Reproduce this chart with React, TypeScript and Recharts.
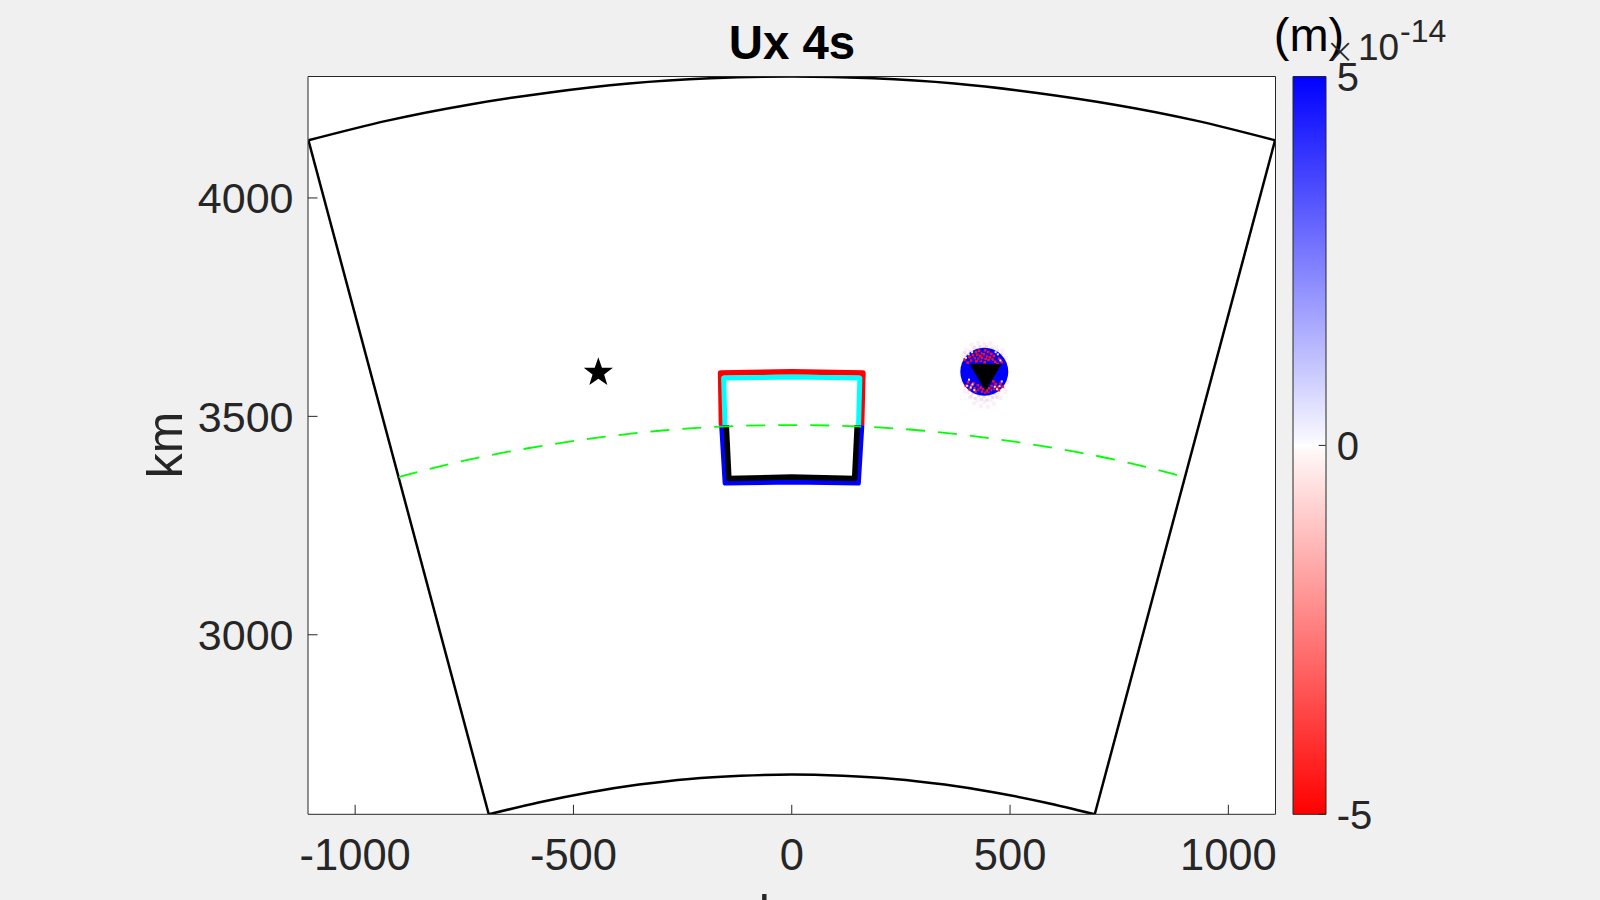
import { ComposedChart, BarChart, Bar, Line, Scatter, XAxis, YAxis } from "recharts";

type Pt = { x: number; y: number };

const xTicks = [-1000, -500, 0, 500, 1000];
const yTicks = [3000, 3500, 4000];
const colorTicks = [-5, 0, 5];

// fan outline, km
const outerArc: Pt[] = [
  { x: -1107, y: 4132 }, { x: -926, y: 4177 }, { x: -743, y: 4213 }, { x: -558, y: 4241 },
  { x: -373, y: 4262 }, { x: -187, y: 4274 }, { x: 0, y: 4278 }, { x: 187, y: 4274 },
  { x: 373, y: 4262 }, { x: 558, y: 4241 }, { x: 743, y: 4213 }, { x: 926, y: 4177 },
  { x: 1107, y: 4132 },
];
const innerArc: Pt[] = [
  { x: -694, y: 2589 }, { x: -580, y: 2616 }, { x: -465, y: 2639 }, { x: -350, y: 2657 },
  { x: -234, y: 2670 }, { x: -117, y: 2677 }, { x: 0, y: 2680 }, { x: 117, y: 2677 },
  { x: 234, y: 2670 }, { x: 350, y: 2657 }, { x: 465, y: 2639 }, { x: 580, y: 2616 },
  { x: 694, y: 2589 },
];
const leftEdge: Pt[] = [{ x: -1107, y: 4132 }, { x: -694, y: 2589 }];
const rightEdge: Pt[] = [{ x: 1107, y: 4132 }, { x: 694, y: 2589 }];

const greenArc: Pt[] = [
  { x: -900, y: 3361 }, { x: -753, y: 3398 }, { x: -604, y: 3427 }, { x: -454, y: 3450 },
  { x: -303, y: 3467 }, { x: -152, y: 3477 }, { x: 0, y: 3480 }, { x: 152, y: 3477 },
  { x: 303, y: 3467 }, { x: 454, y: 3450 }, { x: 604, y: 3427 }, { x: 753, y: 3398 },
  { x: 900, y: 3361 },
];

const redBox: Pt[] = [
  { x: -161, y: 3480 }, { x: -163, y: 3599 }, { x: 0, y: 3602 }, { x: 163, y: 3599 }, { x: 160, y: 3480 },
];
const cyanBox: Pt[] = [
  { x: -153, y: 3480 }, { x: -156, y: 3588 }, { x: 0, y: 3590 }, { x: 156, y: 3588 }, { x: 153, y: 3480 },
];
const blueBox: Pt[] = [
  { x: -160, y: 3480 }, { x: -152, y: 3348 }, { x: 0, y: 3350 }, { x: 152, y: 3348 }, { x: 160, y: 3480 },
];
const blackBox: Pt[] = [
  { x: -150, y: 3480 }, { x: -144, y: 3358 }, { x: 0, y: 3361 }, { x: 144, y: 3358 }, { x: 150, y: 3480 },
];

const source: Pt[] = [{ x: -443, y: 3600 }];
const station: Pt[] = [{ x: 444, y: 3597 }];
const stationDisc: Pt[] = [{ x: 441, y: 3602 }];

// speckle round the station
const faintSpecks: Pt[] = [
  { x: 412, y: 3664 }, { x: 427, y: 3668 }, { x: 441, y: 3665 }, { x: 455, y: 3667 }, { x: 468, y: 3659 },
  { x: 400, y: 3653 }, { x: 482, y: 3651 }, { x: 394, y: 3636 }, { x: 491, y: 3634 }, { x: 390, y: 3576 },
  { x: 494, y: 3578 }, { x: 396, y: 3558 }, { x: 489, y: 3556 }, { x: 408, y: 3544 }, { x: 478, y: 3542 },
  { x: 418, y: 3530 }, { x: 433, y: 3524 }, { x: 449, y: 3522 }, { x: 463, y: 3529 }, { x: 425, y: 3536 },
  { x: 456, y: 3537 }, { x: 441, y: 3533 }, { x: 471, y: 3549 }, { x: 404, y: 3556 },
];
const paleSpecks: Pt[] = [
  { x: 418, y: 3658 }, { x: 431, y: 3660 }, { x: 446, y: 3659 }, { x: 459, y: 3656 }, { x: 472, y: 3650 },
  { x: 408, y: 3648 }, { x: 424, y: 3653 }, { x: 438, y: 3656 }, { x: 452, y: 3653 }, { x: 479, y: 3642 },
  { x: 401, y: 3640 }, { x: 486, y: 3630 }, { x: 415, y: 3552 }, { x: 428, y: 3547 }, { x: 440, y: 3545 },
  { x: 452, y: 3549 }, { x: 464, y: 3552 }, { x: 476, y: 3559 }, { x: 406, y: 3562 }, { x: 420, y: 3541 },
  { x: 434, y: 3539 }, { x: 447, y: 3537 }, { x: 460, y: 3543 }, { x: 486, y: 3566 }, { x: 398, y: 3570 },
  { x: 411, y: 3545 }, { x: 470, y: 3544 }, { x: 396, y: 3646 },
];
const redSpecks: Pt[] = [
  { x: 415, y: 3640 }, { x: 422, y: 3647 }, { x: 429, y: 3650 }, { x: 436, y: 3645 }, { x: 443, y: 3651 },
  { x: 450, y: 3647 }, { x: 457, y: 3643 }, { x: 463, y: 3638 }, { x: 425, y: 3641 }, { x: 432, y: 3638 },
  { x: 440, y: 3642 }, { x: 447, y: 3638 }, { x: 454, y: 3635 }, { x: 419, y: 3633 }, { x: 428, y: 3632 },
  { x: 436, y: 3634 }, { x: 444, y: 3632 }, { x: 451, y: 3629 }, { x: 460, y: 3630 }, { x: 411, y: 3628 },
  { x: 423, y: 3626 }, { x: 433, y: 3627 }, { x: 442, y: 3624 }, { x: 466, y: 3625 }, { x: 407, y: 3636 },
  { x: 396, y: 3630 }, { x: 403, y: 3623 }, { x: 475, y: 3632 }, { x: 481, y: 3624 }, { x: 471, y: 3620 },
  { x: 426, y: 3571 }, { x: 433, y: 3566 }, { x: 439, y: 3562 }, { x: 446, y: 3560 }, { x: 452, y: 3564 },
  { x: 458, y: 3569 }, { x: 428, y: 3561 }, { x: 436, y: 3557 }, { x: 443, y: 3555 }, { x: 450, y: 3557 },
  { x: 456, y: 3560 }, { x: 463, y: 3563 }, { x: 419, y: 3564 }, { x: 411, y: 3570 }, { x: 404, y: 3578 },
  { x: 399, y: 3570 }, { x: 408, y: 3562 }, { x: 416, y: 3576 }, { x: 421, y: 3557 }, { x: 471, y: 3566 },
  { x: 478, y: 3575 }, { x: 483, y: 3568 }, { x: 467, y: 3574 }, { x: 474, y: 3560 }, { x: 462, y: 3580 },
];
const whiteSpecks: Pt[] = [
  { x: 402, y: 3570 }, { x: 410, y: 3566 }, { x: 414, y: 3573 }, { x: 406, y: 3584 }, { x: 418, y: 3560 },
  { x: 470, y: 3562 }, { x: 476, y: 3569 }, { x: 481, y: 3580 }, { x: 465, y: 3568 }, { x: 399, y: 3634 },
  { x: 405, y: 3642 }, { x: 413, y: 3647 }, { x: 472, y: 3642 }, { x: 478, y: 3628 }, { x: 467, y: 3647 },
];
const blueSpecks: Pt[] = [
  { x: 424, y: 3636 }, { x: 438, y: 3648 }, { x: 449, y: 3642 }, { x: 431, y: 3630 }, { x: 456, y: 3626 },
  { x: 415, y: 3631 }, { x: 442, y: 3636 }, { x: 424, y: 3567 }, { x: 431, y: 3559 }, { x: 441, y: 3558 },
  { x: 453, y: 3559 }, { x: 460, y: 3565 }, { x: 412, y: 3561 }, { x: 473, y: 3573 },
];

const colorBar = [{ name: "Ux", range: [-5, 5] }];

const tickFont = "Liberation Sans, Arial, sans-serif";
const inkColor = "#262626";

function Star({ cx, cy }: { cx?: number; cy?: number }) {
  const pts = [
    [0, -15.4], [3.6, -4.8], [14.6, -4.8], [5.8, 1.9], [9, 12.4], [0, 6], [-9, 12.4], [-5.8, 1.9], [-14.6, -4.8], [-3.6, -4.8],
  ];
  return <polygon points={pts.map(([a, b]) => `${(cx ?? 0) + a},${(cy ?? 0) + b}`).join(" ")} fill="#000" />;
}

function Triangle({ cx, cy }: { cx?: number; cy?: number }) {
  const x = cx ?? 0;
  const y = cy ?? 0;
  return <polygon points={`${x - 16},${y - 10} ${x + 16},${y - 10} ${x},${y + 17}`} fill="#000" />;
}

function Disc({ cx, cy }: { cx?: number; cy?: number }) {
  return <circle cx={cx} cy={cy} r={24} fill="#0000ff" />;
}

function speck(color: string, size = 2.4) {
  return ({ cx, cy }: { cx?: number; cy?: number }) => (
    <rect x={(cx ?? 0) - size / 2} y={(cy ?? 0) - size / 2} width={size} height={size} fill={color} />
  );
}

export default function App() {
  const axisStroke = { stroke: inkColor, strokeWidth: 1 };
  const lines: [Pt[], string, number, "linear" | "natural", string?][] = [
    [outerArc, "#000000", 2.5, "natural"],
    [innerArc, "#000000", 2.5, "natural"],
    [leftEdge, "#000000", 2.5, "linear"],
    [rightEdge, "#000000", 2.5, "linear"],
    [redBox, "#ff0000", 5.5, "linear"],
    [blueBox, "#0000ff", 5.5, "linear"],
    [cyanBox, "#00ffff", 5, "linear"],
    [blackBox, "#000000", 5.5, "linear"],
    [greenArc, "#00ff00", 1.8, "natural", "19 13"],
  ];
  const speckLayers: [Pt[], string, number][] = [
    [redSpecks, "#ff1010", 2.6],
    [blueSpecks, "#1010ff", 2.4],
    [whiteSpecks, "#f4e8f6", 2],
  ];
  return (
    <div style={{ position: "absolute", left: 0, top: 0, width: 1600, height: 900, background: "#f0f0f0", overflow: "hidden" }}>
      <div style={{ position: "absolute", left: 308, top: 76.5, width: 967.5, height: 738, background: "#fff" }} />
      <div style={{ position: "absolute", left: 0, top: 0 }}>
        <ComposedChart
          width={1600}
          height={900}
          margin={{ top: 75.5, right: 323.5, bottom: 0, left: 208 }}
          style={{ fontFamily: tickFont }}
        >
          <XAxis
            xAxisId="b"
            type="number"
            dataKey="x"
            domain={[-1108, 1108]}
            ticks={xTicks}
            allowDataOverflow
            height={85.7}
            tickSize={-9.5}
            tickMargin={34}
            axisLine={axisStroke}
            tickLine={axisStroke}
            interval={0}
            tick={{ fontSize: 43.5, fill: inkColor, fontFamily: tickFont }}
          />
          <XAxis
            xAxisId="t"
            orientation="top"
            type="number"
            dataKey="x"
            domain={[-1108, 1108]}
            ticks={xTicks}
            allowDataOverflow
            height={1}
            tickSize={-9.5}
            axisLine={axisStroke}
            tickLine={axisStroke}
            interval={0}
            tick={false}
          />
          <YAxis
            yAxisId="l"
            type="number"
            dataKey="y"
            domain={[2589, 4278]}
            ticks={yTicks}
            allowDataOverflow
            width={100}
            tickSize={-9.5}
            tickMargin={24}
            axisLine={axisStroke}
            tickLine={axisStroke}
            interval={0}
            tick={{ fontSize: 43, fill: inkColor, fontFamily: tickFont }}
          />
          <YAxis
            yAxisId="r"
            orientation="right"
            type="number"
            dataKey="y"
            domain={[2589, 4278]}
            ticks={yTicks}
            allowDataOverflow
            width={1}
            tickSize={-9.5}
            axisLine={axisStroke}
            tickLine={axisStroke}
            interval={0}
            tick={false}
          />
          {lines.map(([data, color, width, curve, dash], i) => (
            <Line
              key={i}
              xAxisId="b"
              yAxisId="l"
              data={data}
              dataKey="y"
              type={curve}
              stroke={color}
              strokeWidth={width}
              strokeDasharray={dash}
              strokeLinejoin="round"
              dot={false}
              activeDot={false}
              isAnimationActive={false}
            />
          ))}
          <Scatter xAxisId="b" yAxisId="l" data={faintSpecks} dataKey="y" shape={speck("#fbf0f7", 4)} isAnimationActive={false} />
          <Scatter xAxisId="b" yAxisId="l" data={paleSpecks} dataKey="y" shape={speck("#f4dcea", 3)} isAnimationActive={false} />
          <Scatter xAxisId="b" yAxisId="l" data={stationDisc} dataKey="y" shape={Disc} isAnimationActive={false} />
          {speckLayers.map(([data, color, size], i) => (
            <Scatter key={i} xAxisId="b" yAxisId="l" data={data} dataKey="y" shape={speck(color, size)} isAnimationActive={false} />
          ))}
          <Scatter xAxisId="b" yAxisId="l" data={station} dataKey="y" shape={Triangle} isAnimationActive={false} />
          <Scatter xAxisId="b" yAxisId="l" data={source} dataKey="y" shape={Star} isAnimationActive={false} />
          <text x={792} y={59} textAnchor="middle" fontSize={47.4} fontWeight={700} fill="#000">Ux 4s</text>
          <text x={792} y={930} textAnchor="middle" fontSize={50} fill={inkColor}>km</text>
          <text transform="translate(182,445) rotate(-90)" textAnchor="middle" fontSize={50} fill={inkColor}>km</text>
        </ComposedChart>
      </div>
      <div style={{ position: "absolute", left: 0, top: 0 }}>
        <BarChart
          width={1600}
          height={900}
          data={colorBar}
          barCategoryGap={0}
          margin={{ top: 76.5, right: 0, bottom: 85.7, left: 1293 }}
          style={{ fontFamily: tickFont }}
        >
          <defs>
            <linearGradient id="ramp" x1="0" y1="0" x2="0" y2="1">
              <stop offset="0%" stopColor="#0000ff" />
              <stop offset="49%" stopColor="#f6f6ff" />
              <stop offset="50%" stopColor="#ffffff" />
              <stop offset="51%" stopColor="#fff6f6" />
              <stop offset="100%" stopColor="#ff0000" />
            </linearGradient>
          </defs>
          <XAxis dataKey="name" hide />
          <YAxis
            orientation="right"
            type="number"
            domain={[-5, 5]}
            ticks={colorTicks}
            width={274.3}
            tickSize={-7}
            tickMargin={18}
            axisLine={false}
            tickLine={axisStroke}
            interval={0}
            tick={{ fontSize: 40, fill: inkColor, fontFamily: tickFont }}
          />
          <Bar dataKey="range" fill="url(#ramp)" stroke={inkColor} strokeWidth={1} isAnimationActive={false} />
          <text x={1309} y={51} textAnchor="middle" fontSize={47} fill="#000">(m)</text>
          <text x={1340} y={63} textAnchor="middle" fontSize={36} fontWeight={200} fontFamily="DejaVu Sans" fill={inkColor}>×</text>
          <text x={1358} y={60} fontSize={37} fill={inkColor}>10</text>
          <text x={1400} y={42} fontSize={32} fill={inkColor}>-14</text>
        </BarChart>
      </div>
    </div>
  );
}
